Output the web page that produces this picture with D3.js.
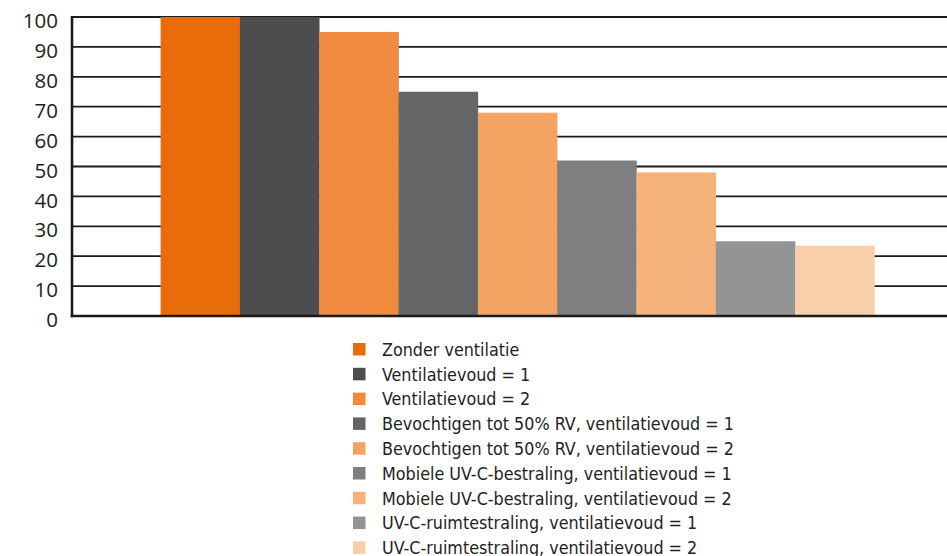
<!DOCTYPE html>
<html>
<head>
<meta charset="utf-8">
<script src="https://cdn.jsdelivr.net/npm/d3@7"></script>
<style>
  html, body { margin: 0; padding: 0; background: #fff; }
  svg { display: block; }
</style>
</head>
<body>
<svg id="chart" width="947" height="556"></svg>
<script>
const categories = [
  "Zonder ventilatie",
  "Ventilatievoud = 1",
  "Ventilatievoud = 2",
  "Bevochtigen tot 50% RV, ventilatievoud = 1",
  "Bevochtigen tot 50% RV, ventilatievoud = 2",
  "Mobiele UV-C-bestraling, ventilatievoud = 1",
  "Mobiele UV-C-bestraling, ventilatievoud = 2",
  "UV-C-ruimtestraling, ventilatievoud = 1",
  "UV-C-ruimtestraling, ventilatievoud = 2"
];
const values = [100, 100, 95, 75, 68, 52, 48, 25, 23.5];
const colors = ["#E96C0B", "#4D4D4F", "#EF8A3F", "#646567", "#F3A462", "#7E7F81", "#F6B27B", "#939496", "#F9CFAB"];
const yTicks = [0, 10, 20, 30, 40, 50, 60, 70, 80, 90, 100];

const svg = d3.select("#chart");
const pLeft = 72, pRight = 963, pTop = 17, pBottom = 316;

const x = d3.scaleBand().domain(categories).range([pLeft, pRight])
  .paddingInner(0).paddingOuter(1.117);
const y = d3.scaleLinear().domain([0, 100]).range([pBottom, pTop]);

// gridlines
svg.append("g").selectAll("line").data(yTicks.filter(d => d > 0)).join("line")
  .attr("x1", pLeft).attr("x2", pRight)
  .attr("y1", d => y(d)).attr("y2", d => y(d))
  .attr("stroke", "#1b1a1f").attr("stroke-width", 1.8);

// bars
svg.append("g").selectAll("rect").data(categories).join("rect")
  .attr("x", d => x(d))
  .attr("width", x.bandwidth() + 0.3)
  .attr("y", (d, i) => y(values[i]))
  .attr("height", (d, i) => y(0) - y(values[i]))
  .attr("fill", (d, i) => colors[i]);

// axes frame
svg.append("line").attr("x1", pLeft).attr("x2", pLeft).attr("y1", pTop - 1).attr("y2", pBottom + 1.2)
  .attr("stroke", "#1b1a1f").attr("stroke-width", 2.6);
svg.append("line").attr("x1", pLeft - 1.3).attr("x2", pRight).attr("y1", pBottom).attr("y2", pBottom)
  .attr("stroke", "#1b1a1f").attr("stroke-width", 2.6);

// y axis labels
const yAxis = d3.axisLeft(y).tickValues(yTicks).tickSize(0).tickPadding(14);
const ya = svg.append("g").attr("transform", `translate(${pLeft},0)`).call(yAxis);
ya.select(".domain").remove();
ya.selectAll("text")
  .attr("dy", "0.52em")
  .style("font-family", "'Open Sans', sans-serif")
  .style("font-size", "20.5px")
  .style("fill", "#1e1e1e");

// legend
const lg = svg.append("g");
const rowH = 24.8;
const items = lg.selectAll("g").data(categories).join("g")
  .attr("transform", (d, i) => `translate(353, ${343 + i * rowH})`);
items.append("rect").attr("width", 12.5).attr("height", 12.5)
  .attr("fill", (d, i) => colors[i]);
const texts = items.append("text")
  .attr("x", 29).attr("y", 12.8)
  .style("font-family", "'DejaVu Sans Condensed', 'DejaVu Sans', sans-serif")
  .style("font-size", "16px")
  .style("fill", "#222")
  .text(d => d);
// fit font size so the longest label spans the reference width
const longest = texts.nodes()[6];
const w = longest.getComputedTextLength();
const fs = 16 * 350 / w;
texts.style("font-size", fs + "px");
</script>
</body>
</html>
